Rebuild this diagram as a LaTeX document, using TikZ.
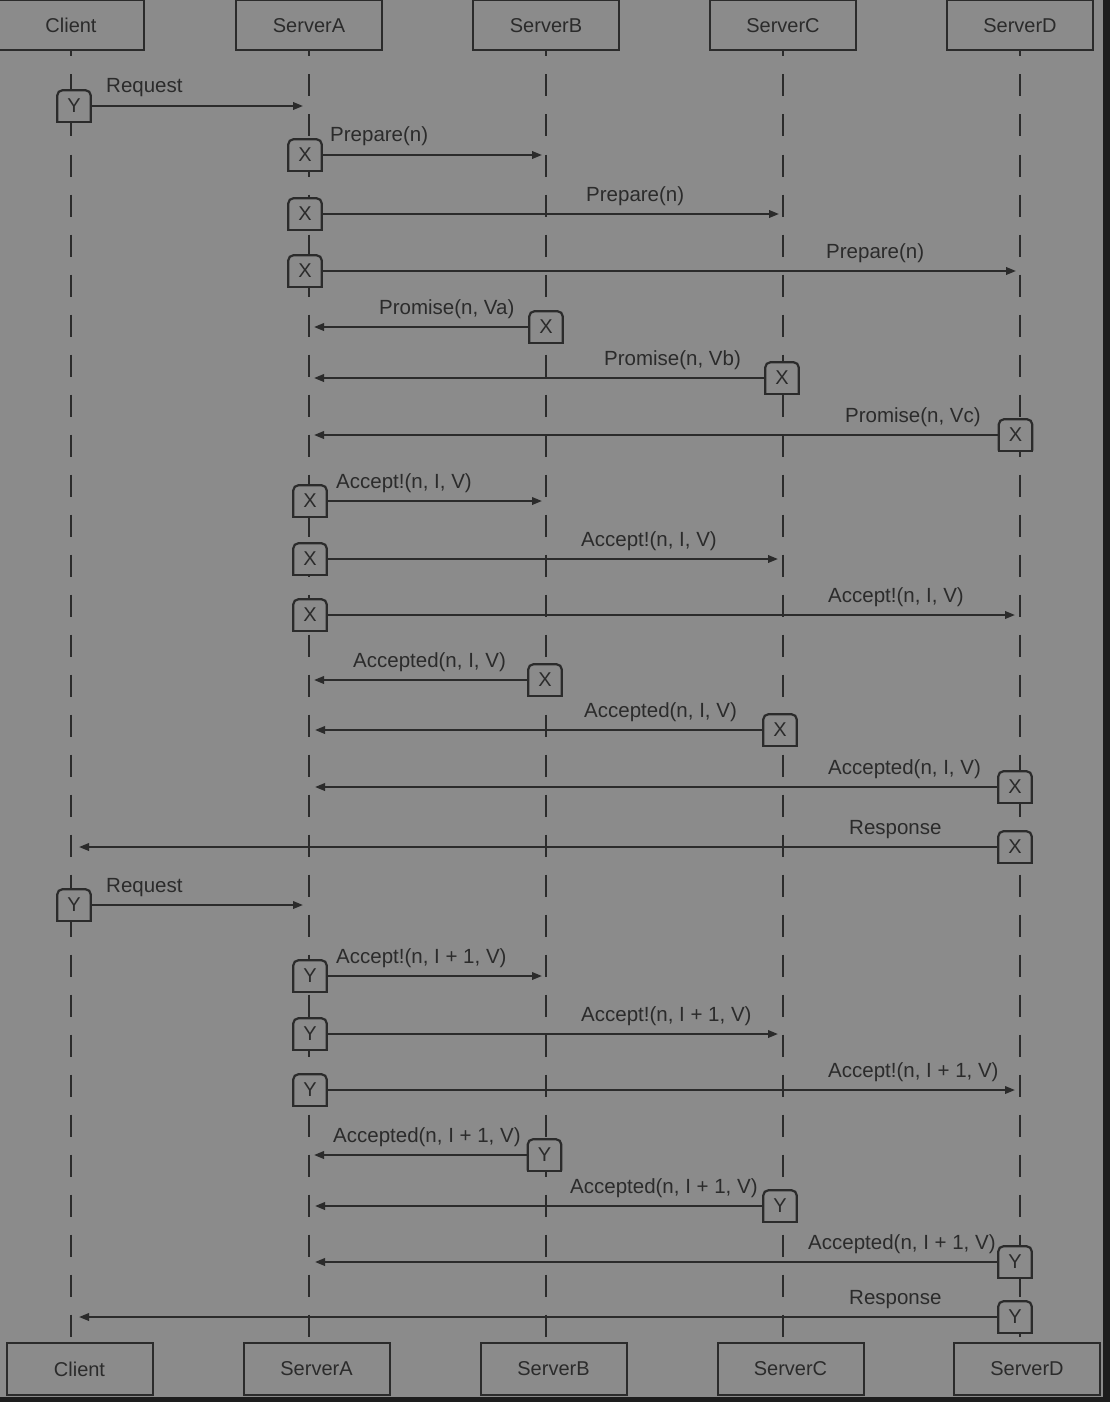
\documentclass[tikz,border=0pt]{standalone}
\usepackage{fontspec}
\setmainfont{Liberation Sans}
\usetikzlibrary{arrows.meta}
\definecolor{bg}{HTML}{8B8B8B}
\definecolor{ink}{HTML}{2B2B2B}
\definecolor{edge}{HTML}{1D1D1D}
\tikzset{
  head/.style={draw=ink, line width=2pt, minimum width=146pt, minimum height=50pt, inner sep=0pt, text=ink, font=\fontsize{20}{24}\selectfont},
  act/.style={fill=bg, minimum width=33pt, minimum height=31pt, inner sep=0pt, text=ink, font=\fontsize{20}{24}\selectfont},
  actframe/.style={draw=ink, line width=2.2pt},
  life/.style={draw=ink, line width=2pt, dash pattern=on 22pt off 18pt, dash phase=17pt},
  msgline/.style={draw=ink, line width=2pt, -{Triangle[length=10pt,width=7.5pt]}},
  lbl/.style={anchor=base west, inner sep=0pt, text=ink, font=\fontsize{20.5}{24}\selectfont}
}
% #1 name, #2 box x, #3 y, #4 letter, #5 target lifeline node, #6 side of box, #7 label x, #8 label, #9 gap at tip
\newcommand\sendmsg[9]{%
  \node[act] (#1) at (#2,#3) {#4};
  \draw[actframe, rounded corners=5pt] (#1.south west) -- (#1.north west) -- (#1.north east) -- (#1.south east);
  \draw[actframe, line cap=rect] (#1.south west) -- (#1.south east);
  \draw[msgline, shorten >=#9pt] (#1.#6) -- (#5 |- #1);
  \node[lbl] (#1l) at (#7,#3-13) {#8};
}
\begin{document}
\begin{tikzpicture}[x=1pt,y=-1pt]
\useasboundingbox (0,0) rectangle (1110,1402);
\clip (0,0) rectangle (1110,1402);
\fill[bg] (0,0) rectangle (1110,1402);

% heads
\node[head] (tClient) at (71,25.5) {Client};
\node[head] (tA) at (309,25.5) {ServerA};
\node[head] (tB) at (546,25.5) {ServerB};
\node[head] (tC) at (783,25.5) {ServerC};
\node[head] (tD) at (1020,25.5) {ServerD};
\node[head, minimum height=52pt] (bClient) at (79.5,1369) {Client};
\node[head, minimum height=52pt] (bA) at (316.5,1369) {ServerA};
\node[head, minimum height=52pt] (bB) at (553.5,1369) {ServerB};
\node[head, minimum height=52pt] (bC) at (790.5,1369) {ServerC};
\node[head, minimum height=52pt] (bD) at (1027,1369) {ServerD};

% lifelines
\foreach \n in {tClient,tA,tB,tC,tD}{
  \draw[life] (\n.south) -- (\n |- bClient.north);
}

% messages
\sendmsg{m1}{74}{106}{Y}{tA}{east}{106}{Request}{6}
\sendmsg{m2}{305}{155}{X}{tB}{east}{330}{Prepare(n)}{4}
\sendmsg{m3}{305}{214}{X}{tC}{east}{586}{Prepare(n)}{4}
\sendmsg{m4}{305}{271}{X}{tD}{east}{826}{Prepare(n)}{4}
\sendmsg{m5}{546}{327}{X}{tA}{west}{379}{Promise(n, Va)}{5}
\sendmsg{m6}{782}{378}{X}{tA}{west}{604}{Promise(n, Vb)}{5}
\sendmsg{m7}{1015.5}{435}{X}{tA}{west}{845}{Promise(n, Vc)}{5}
\sendmsg{m8}{310}{501}{X}{tB}{east}{336}{Accept!(n, I, V)}{4}
\sendmsg{m9}{310}{559}{X}{tC}{east}{581}{Accept!(n, I, V)}{5}
\sendmsg{m10}{310}{615}{X}{tD}{east}{828}{Accept!(n, I, V)}{5}
\sendmsg{m11}{545}{680}{X}{tA}{west}{353}{Accepted(n, I, V)}{5}
\sendmsg{m12}{780}{730}{X}{tA}{west}{584}{Accepted(n, I, V)}{6}
\sendmsg{m13}{1015}{787}{X}{tA}{west}{828}{Accepted(n, I, V)}{6}
\sendmsg{m14}{1015}{847}{X}{tClient}{west}{849}{Response}{8}
\sendmsg{m15}{74}{905}{Y}{tA}{east}{106}{Request}{6}
\sendmsg{m16}{310}{976}{Y}{tB}{east}{336}{Accept!(n, I + 1, V)}{4}
\sendmsg{m17}{310}{1034}{Y}{tC}{east}{581}{Accept!(n, I + 1, V)}{5}
\sendmsg{m18}{310}{1090}{Y}{tD}{east}{828}{Accept!(n, I + 1, V)}{5}
\sendmsg{m19}{544.5}{1155}{Y}{tA}{west}{333}{Accepted(n, I + 1, V)}{5}
\sendmsg{m20}{780}{1206}{Y}{tA}{west}{570}{Accepted(n, I + 1, V)}{6}
\sendmsg{m21}{1015}{1262}{Y}{tA}{west}{808}{Accepted(n, I + 1, V)}{6}
\sendmsg{m22}{1015}{1317}{Y}{tClient}{west}{849}{Response}{8}

% dark margins
\fill[edge] (1103,0) rectangle (1110,1402);
\fill[edge] (0,1397) rectangle (1110,1402);
\end{tikzpicture}
\end{document}
